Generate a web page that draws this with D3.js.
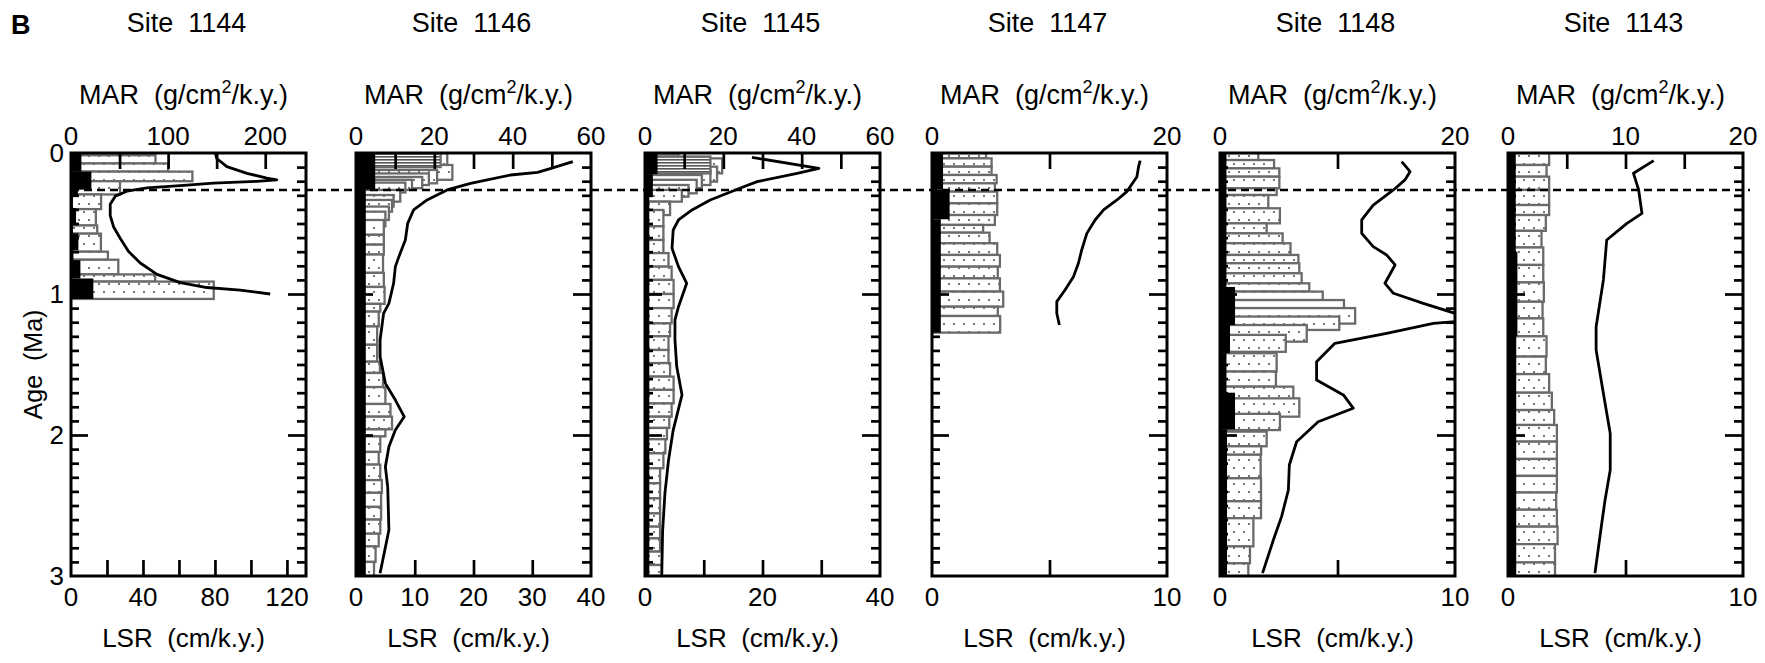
<!DOCTYPE html>
<html><head><meta charset="utf-8">
<script src="https://cdn.jsdelivr.net/npm/d3@7"></script>
<style>
body{margin:0;background:#fff;}
svg text{font-family:"Liberation Sans",Arial,Helvetica,sans-serif;fill:#000;white-space:pre;}
</style></head><body>
<svg id="chart" width="1765" height="663"></svg>
<script>
// ---------------- DATA ----------------
const siteNames = ["Site  1144","Site  1146","Site  1145","Site  1147","Site  1148","Site  1143"];
const marMax = [242, 60, 60, 20, 20, 20];
const lsrMax = [130.6, 40, 40, 10, 10, 10];
const marTicks = [[50,100,150,200],[10,20,30,40,50],[10,20,30,40,50],[10],[10],[5,10,15]];
const marTickLabels = [[0,100,200],[0,20,40,60],[0,20,40,60],[0,20],[0,20],[0,10,20]];
const lsrTicks = [[20,40,60,80,100,120],[10,20,30],[10,20,30],[5],[5],[5]];
const lsrTickLabels = [[0,40,80,120],[0,10,20,30,40],[0,20,40],[0,10],[0,10],[0,10]];
const ageTickLabels = [0,1,2,3];
const dashedAge = 0.262;

// bars: [age top (Ma), age bottom (Ma), MAR]
const bars1144 = [[0,0.016,68],[0.016,0.074,87],[0.074,0.132,100],[0.132,0.20,125],[0.20,0.294,50.5],[0.294,0.398,31],[0.398,0.514,25.6],[0.514,0.572,27],[0.572,0.70,30.8],[0.70,0.757,38],[0.757,0.861,48.7],[0.861,0.912,86.7],[0.912,1.035,147]];
const hatch1144 = [];
const black1144 = [[0,0.132,10.7],[0.132,0.26,21],[0.26,0.30,7],[0.30,0.39,2],[0.39,0.51,5.2],[0.51,0.57,2],[0.57,0.69,7.6],[0.69,0.76,2.5],[0.76,0.89,9.7],[0.89,1.035,23]];
const line1144 = [[0,80.2],[0.039,81],[0.097,86.6],[0.144,97.8],[0.178,108.9],[0.19,114.4],[0.201,103.3],[0.213,79.2],[0.231,60.7],[0.248,42.2],[0.271,31.1],[0.306,24.6],[0.363,21.8],[0.444,21.8],[0.525,23.7],[0.606,27.4],[0.699,32],[0.78,38.5],[0.861,47.8],[0.919,60.7],[0.954,75.5],[0.972,94],[1.0,110.7]];

const bars1146 = [[0,0.085,23.3],[0.085,0.19,24.6],[0.12,0.215,20.7],[0.145,0.227,18.6],[0.17,0.25,16.9],[0.19,0.262,14.3],[0.21,0.28,12.6],[0.262,0.345,11.3],[0.298,0.38,9.6],[0.333,0.416,9.2],[0.38,0.475,8.4],[0.416,0.52,7.5],[0.475,0.58,7.1],[0.58,0.65,7.1],[0.65,0.72,7.1],[0.72,0.85,6.9],[0.85,0.95,7.1],[0.95,1.07,7.3],[1.07,1.125,6.2],[1.125,1.23,5.8],[1.23,1.36,5.4],[1.36,1.48,5.4],[1.48,1.56,6.1],[1.56,1.66,6.9],[1.66,1.78,7.5],[1.78,1.87,8.8],[1.87,1.96,9.2],[1.96,2.01,7.5],[2.01,2.12,6.2],[2.12,2.21,5.8],[2.21,2.32,6.2],[2.32,2.41,6.6],[2.41,2.51,6.4],[2.51,2.6,6.4],[2.6,2.7,6.2],[2.7,2.79,5.8],[2.79,2.9,5.0],[2.9,3.0,4.6]];
const hatch1146 = [[0,0.1,21.6]];
const black1146 = [[0,0.26,4.9],[0.26,3.0,2.5]];
const line1146 = [[0.061,36.9],[0.109,33.2],[0.137,30.9],[0.156,26.3],[0.215,19.5],[0.262,15.5],[0.333,12.1],[0.404,9.8],[0.499,8.8],[0.617,8.4],[0.735,7.3],[0.806,6.7],[0.924,6.4],[1.066,5.6],[1.137,4.7],[1.326,4.1],[1.444,4.1],[1.634,5.0],[1.752,6.7],[1.87,8.2],[1.965,6.7],[2.083,5.6],[2.225,5.0],[2.37,5.4],[2.674,5.6],[2.98,4.1]];

const bars1145 = [[0.038,0.144,19.7],[0.097,0.203,18.4],[0.12,0.227,16.7],[0.156,0.25,14.5],[0.19,0.286,13.2],[0.227,0.31,11.1],[0.262,0.345,9.4],[0.345,0.44,6.4],[0.404,0.52,4.7],[0.52,0.617,4.7],[0.617,0.71,4.7],[0.71,0.806,6.0],[0.806,0.9,6.8],[0.9,1.0,7.3],[1.0,1.10,7.3],[1.10,1.208,6.8],[1.208,1.30,6.4],[1.30,1.397,6.0],[1.397,1.49,6.0],[1.49,1.586,6.4],[1.586,1.68,7.3],[1.68,1.776,7.3],[1.776,1.87,6.8],[1.87,1.95,6.2],[1.95,2.03,5.6],[2.03,2.13,5.2],[2.13,2.236,4.7],[2.236,2.342,3.85],[2.342,2.449,3.85],[2.449,2.556,3.85],[2.556,2.65,3.85],[2.65,2.733,3.85],[2.733,2.827,3.85],[2.827,2.922,4.3],[2.922,3.0,4.3]];
const hatch1145 = [[0,0.025,8.5],[0.025,0.145,16.7]];
const black1145 = [[0,0.15,3.2],[0.15,0.3,2.0],[0.3,3.0,1.1]];
const line1145 = [[0.031,18.2],[0.109,29.6],[0.144,25.9],[0.203,19.1],[0.239,16.8],[0.286,14.0],[0.333,11.1],[0.404,8.0],[0.475,5.7],[0.546,4.8],[0.676,4.6],[0.806,5.7],[0.924,7.1],[1.09,5.7],[1.184,5.1],[1.326,5.1],[1.515,5.4],[1.716,6.3],[1.965,4.8],[2.18,4.0],[2.41,3.4],[2.68,3.0],[3.0,2.85]];

const bars1147 = [[0,0.038,4.6],[0.038,0.097,5.07],[0.097,0.156,5.07],[0.156,0.215,5.5],[0.215,0.274,5.35],[0.274,0.357,5.55],[0.357,0.44,5.55],[0.44,0.51,5.35],[0.51,0.565,4.35],[0.565,0.64,4.9],[0.64,0.723,5.55],[0.723,0.806,5.78],[0.806,0.889,5.6],[0.889,0.983,5.78],[0.983,1.09,6.06],[1.09,1.156,5.6],[1.156,1.274,5.8]];
const hatch1147 = [];
const black1147 = [[0,0.26,0.94],[0.26,0.47,1.5],[0.47,1.274,0.75]];
const line1147 = [[0.054,8.86],[0.097,8.79],[0.168,8.72],[0.274,8.29],[0.333,7.87],[0.404,7.3],[0.475,6.94],[0.57,6.59],[0.688,6.37],[0.782,6.23],[0.877,6.02],[0.972,5.66],[1.054,5.31],[1.137,5.31],[1.22,5.42]];

const bars1148 = [[0,0.05,3.26],[0.05,0.109,4.6],[0.109,0.168,5.05],[0.168,0.25,5.05],[0.25,0.298,4.82],[0.298,0.392,4.11],[0.392,0.499,5.1],[0.499,0.57,3.97],[0.57,0.64,5.33],[0.64,0.723,6.0],[0.723,0.782,6.67],[0.782,0.853,6.75],[0.853,0.924,6.95],[0.924,0.983,7.6],[0.983,1.043,8.74],[1.043,1.1,10.55],[1.1,1.21,11.5],[1.16,1.255,10.15],[1.22,1.338,7.38],[1.29,1.41,5.6],[1.42,1.55,4.82],[1.55,1.657,4.76],[1.657,1.775,6.24],[1.74,1.87,6.75],[1.85,1.965,5.1],[1.976,2.08,3.97],[2.08,2.14,3.5],[2.14,2.307,3.46],[2.307,2.47,3.49],[2.47,2.59,3.49],[2.59,2.79,2.84],[2.79,2.91,2.55],[2.91,3.03,2.41]];
const hatch1148 = [];
const black1148 = [[0,0.95,0.55],[0.95,1.22,1.28],[1.22,1.42,0.85],[1.42,1.7,0.55],[1.7,1.96,1.28],[1.96,3.0,0.6]];
const line1148 = [[0.061,7.73],[0.132,8.09],[0.191,7.87],[0.262,7.38],[0.369,6.52],[0.475,6.03],[0.57,6.03],[0.664,6.52],[0.723,7.09],[0.794,7.45],[0.924,7.02],[0.995,7.38],[1.066,8.65],[1.137,10.0],[1.17,10.3],[1.196,10.0],[1.208,9.08],[1.279,7.09],[1.35,4.89],[1.48,4.11],[1.61,4.11],[1.716,5.25],[1.81,5.67],[1.906,4.18],[2.048,3.26],[2.213,2.95],[2.39,2.91],[2.579,2.62],[2.745,2.27],[2.98,1.81]];

const bars1143 = [[0,0.085,3.5],[0.085,0.168,3.28],[0.168,0.262,3.5],[0.262,0.369,3.5],[0.369,0.44,3.5],[0.44,0.552,3.22],[0.552,0.67,2.85],[0.67,0.794,3.0],[0.794,0.918,3.0],[0.918,1.055,3.05],[1.055,1.173,2.94],[1.173,1.30,3.0],[1.30,1.444,3.28],[1.444,1.568,3.22],[1.568,1.70,3.5],[1.70,1.823,3.73],[1.823,1.929,3.93],[1.929,2.047,4.16],[2.047,2.17,4.16],[2.17,2.29,4.16],[2.29,2.408,4.16],[2.408,2.53,4.1],[2.53,2.65,4.16],[2.65,2.774,4.22],[2.774,2.904,4.0],[2.904,3.03,4.0]];
const hatch1143 = [];
const black1143 = [[0,0.7,0.66],[0.7,1.3,0.8],[1.3,3.0,0.7]];
const line1143 = [[0.054,6.2],[0.144,5.34],[0.262,5.56],[0.428,5.7],[0.499,5.06],[0.617,4.2],[0.9,4.06],[1.232,3.75],[1.397,3.75],[1.705,4.06],[1.989,4.35],[2.248,4.35],[2.461,4.13],[2.626,3.99],[2.98,3.7]];

const barSets = [bars1144,bars1146,bars1145,bars1147,bars1148,bars1143];
const hatchSets = [hatch1144,hatch1146,hatch1145,hatch1147,hatch1148,hatch1143];
const blackSets = [black1144,black1146,black1145,black1147,black1148,black1143];
const lineSets = [line1144,line1146,line1145,line1147,line1148,line1143];

// ---------------- LAYOUT ----------------
const PANEL_LEFT = [71, 356, 645, 932, 1220, 1508];
const PW = 235, TOP = 153, BOT = 576;
const FS = 26;

const svg = d3.select("#chart");
const defs = svg.append("defs");
const sp = defs.append("pattern").attr("id","stipple").attr("patternUnits","userSpaceOnUse").attr("width",20).attr("height",16);
sp.append("rect").attr("width",20).attr("height",16).attr("fill","#fff");
[[3,3],[13,3],[8,11],[18,11]].forEach(([a,b])=>sp.append("rect").attr("x",a).attr("y",b).attr("width",2).attr("height",2).attr("fill","#777"));
const hp = defs.append("pattern").attr("id","hatch").attr("patternUnits","userSpaceOnUse").attr("width",8).attr("height",3);
hp.append("rect").attr("width",8).attr("height",3).attr("fill","#fff");
hp.append("rect").attr("y",0).attr("width",8).attr("height",1.6).attr("fill","#555");

const y = d3.scaleLinear().domain([0,3]).range([TOP,BOT]);

const panels = siteNames.map((name,i)=>{
  const L = PANEL_LEFT[i];
  const cp = defs.append("clipPath").attr("id","clip"+i);
  cp.append("rect").attr("x",L).attr("y",TOP).attr("width",PW).attr("height",BOT-TOP);
  return {
    name, L,
    xm: d3.scaleLinear().domain([0,marMax[i]]).range([L,L+PW]),
    xl: d3.scaleLinear().domain([0,lsrMax[i]]).range([L,L+PW]),
    bars: barSets[i], hatch: hatchSets[i], black: blackSets[i], line: lineSets[i],
    marTicks: marTicks[i], marLabels: marTickLabels[i], lsrTicks: lsrTicks[i], lsrLabels: lsrTickLabels[i]
  };
});

function drawBars(g, p, data, fill, stroke){
  g.selectAll(null).data(data).join("rect")
    .attr("x", p.xm(0))
    .attr("y", d=>y(d[0]))
    .attr("width", d=>p.xm(d[2])-p.xm(0))
    .attr("height", d=>y(d[1])-y(d[0]))
    .attr("fill", fill)
    .attr("stroke", stroke)
    .attr("stroke-width", stroke==="none"?0:2.3);
}

// pass 1: stippled + hatched bars
panels.forEach((p,i)=>{
  p.g = svg.append("g").attr("clip-path",`url(#clip${i})`);
  drawBars(p.g, p, p.bars, "url(#stipple)", "#6a6a6a");
  drawBars(p.g, p, p.hatch, "url(#hatch)", "#6a6a6a");
});

// dashed reference line
svg.append("line").attr("x1",PANEL_LEFT[0]).attr("x2",1750).attr("y1",y(dashedAge)).attr("y2",y(dashedAge))
  .attr("stroke","#000").attr("stroke-width",2.5).attr("stroke-dasharray","8,5");

// pass 2: black bars, line, axes
panels.forEach((p,i)=>{
  const g2 = svg.append("g").attr("clip-path",`url(#clip${i})`);
  drawBars(g2, p, p.black, "#000", "none");
  g2.append("path").datum(p.line)
    .attr("d", d3.line().x(d=>p.xl(d[1])).y(d=>y(d[0])))
    .attr("fill","none").attr("stroke","#000").attr("stroke-width",2.8).attr("stroke-linejoin","round");

  const ag = svg.append("g");
  const L = p.L;
  const styleTicks = s => { s.select(".domain").remove(); s.selectAll("line").attr("stroke","#000").attr("stroke-width",2.7); };
  ag.append("g").attr("transform",`translate(0,${TOP})`)
    .call(d3.axisTop(p.xm).tickValues(p.marTicks).tickSize(-16).tickFormat("")).call(styleTicks);
  ag.append("g").attr("transform",`translate(0,${BOT})`)
    .call(d3.axisBottom(p.xl).tickValues(p.lsrTicks).tickSize(-16).tickFormat("")).call(styleTicks);
  const minor = d3.range(1,30).filter(k=>k%10!==0).map(k=>k/10);
  ag.append("g").attr("transform",`translate(${L},0)`)
    .call(d3.axisLeft(y).tickValues(minor).tickSize(-8).tickFormat("")).call(styleTicks);
  ag.append("g").attr("transform",`translate(${L},0)`)
    .call(d3.axisLeft(y).tickValues([1,2]).tickSize(-17).tickFormat("")).call(styleTicks);
  ag.append("g").attr("transform",`translate(${L+PW},0)`)
    .call(d3.axisRight(y).tickValues(minor).tickSize(-9).tickFormat("")).call(styleTicks);
  ag.append("g").attr("transform",`translate(${L+PW},0)`)
    .call(d3.axisRight(y).tickValues([1,2]).tickSize(-18).tickFormat("")).call(styleTicks);
  ag.append("rect").attr("x",L).attr("y",TOP).attr("width",PW).attr("height",BOT-TOP)
    .attr("fill","none").attr("stroke","#000").attr("stroke-width",3);

  ag.selectAll(null).data(p.marLabels).join("text")
    .attr("x",d=>p.xm(d)).attr("y",TOP-8).attr("text-anchor","middle").attr("font-size",FS).text(d=>d);
  ag.selectAll(null).data(p.lsrLabels).join("text")
    .attr("x",d=>p.xl(d)).attr("y",BOT+30).attr("text-anchor","middle").attr("font-size",FS).text(d=>d);

  const cx = L + PW/2;
  ag.append("text").attr("x",cx-2).attr("y",32).attr("text-anchor","middle").attr("font-size",27).text(p.name);
  const mt = ag.append("text").attr("x",cx-5).attr("y",104).attr("text-anchor","middle").attr("font-size",27);
  mt.append("tspan").text("MAR  (g/cm");
  mt.append("tspan").attr("font-size",18).attr("dy",-11).text("2");
  mt.append("tspan").attr("dy",11).text("/k.y.)");
  ag.append("text").attr("x",cx-5).attr("y",647).attr("text-anchor","middle").attr("font-size",26).text("LSR  (cm/k.y.)");
});

svg.selectAll(null).data(ageTickLabels).join("text")
  .attr("x",PANEL_LEFT[0]-7).attr("y",d=>y(d)+9).attr("text-anchor","end").attr("font-size",FS).text(d=>d);
svg.append("text").attr("transform",`translate(42,${(TOP+BOT)/2}) rotate(-90)`)
  .attr("text-anchor","middle").attr("font-size",25).text("Age  (Ma)");
svg.append("text").attr("x",11).attr("y",34).attr("font-size",27).attr("font-weight","bold").text("B");
</script>
</body></html>
